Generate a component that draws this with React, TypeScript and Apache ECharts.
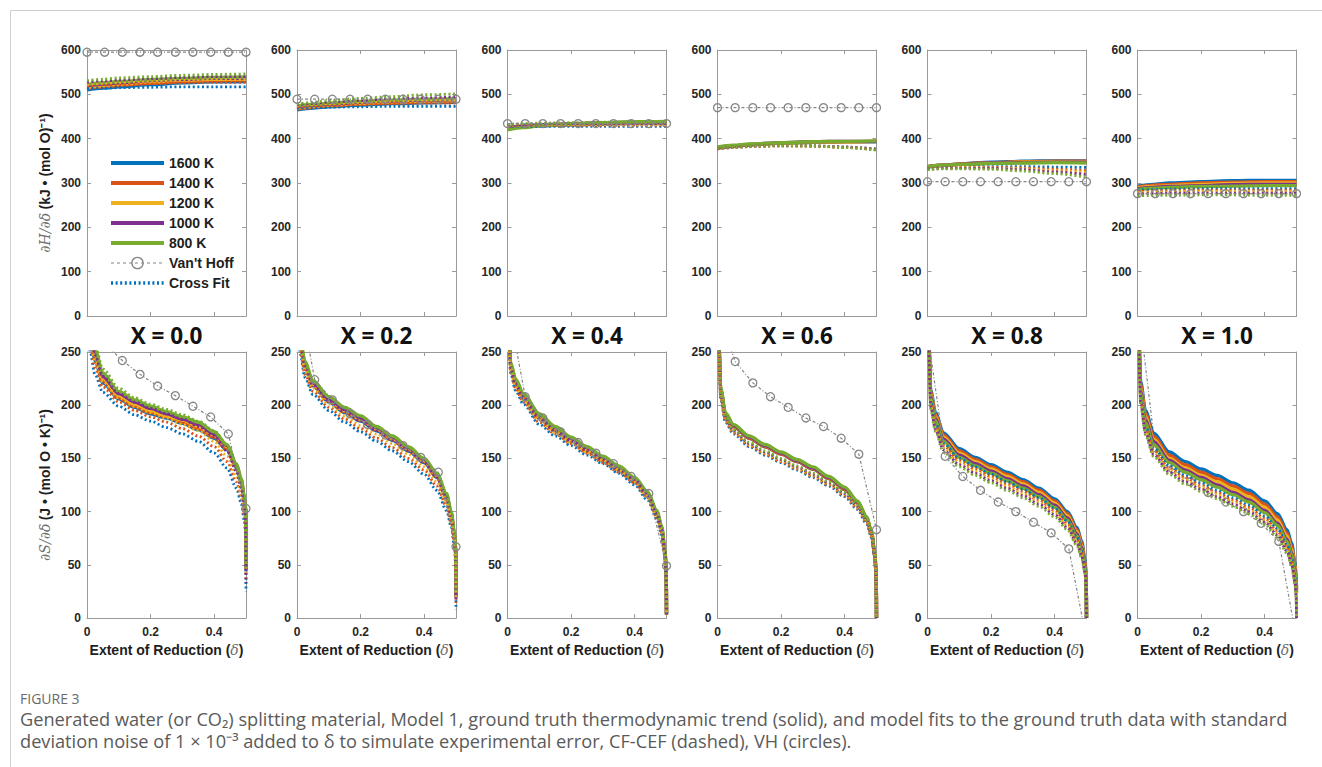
import React, { useEffect, useRef } from "react";
import * as echarts from "echarts";

// ---------- categories ----------
const TEMPS = ["1600 K", "1400 K", "1200 K", "1000 K", "800 K"];
const TEMP_COLORS = ["#0072BD", "#D95319", "#EDB120", "#7E2F8E", "#77AC30"];
const COMPOSITIONS = ["X = 0.0", "X = 0.2", "X = 0.4", "X = 0.6", "X = 0.8", "X = 1.0"];
const VH_NAME = "Van't Hoff";
const FIT_NAME = "Cross Fit";

// ---------- delta sampling ----------
const DELTA_H = [0, 0.05, 0.1, 0.2, 0.3, 0.4, 0.5];
const DELTA_S = [0.001, 0.01, 0.025, 0.05, 0.1, 0.15, 0.2, 0.25, 0.3, 0.35, 0.4, 0.44, 0.47, 0.485, 0.495, 0.499, 0.5];
const DELTA_VH = [0, 0.0556, 0.1111, 0.1667, 0.2222, 0.2778, 0.3333, 0.3889, 0.4444, 0.5];

// ---------- axis ticks ----------
const X_TICKS = [0, 0.5, 0.2];
const H_TICKS = [0, 600, 100];
const S_TICKS = [0, 250, 50];

// ---------- dH/dδ (kJ/mol O): rows are 1600, 1400, 1200, 1000, 800 K ----------
const H_TRUE_X00 = [
  [510, 514, 517, 522, 526, 528, 529],
  [513, 517, 520, 525, 529, 531, 532],
  [516, 520, 523, 528, 532, 534, 535],
  [519, 523, 526, 531, 534, 536, 537],
  [522, 526, 529, 533, 536, 538, 539],
];
const H_FIT_X00 = [
  [513, 514, 515, 516, 517, 517, 517],
  [519, 521, 522, 524, 526, 527, 527],
  [523, 525, 527, 530, 532, 533, 533],
  [527, 530, 532, 535, 538, 540, 540],
  [531, 534, 537, 540, 543, 545, 546],
];
const H_VH_X00 = [595, 595, 595, 595, 595, 595, 595, 595, 595, 595];

const H_TRUE_X02 = [
  [465, 469, 472, 476, 479, 481, 482],
  [467, 471, 474, 478, 481, 483, 484],
  [469, 473, 476, 480, 483, 485, 486],
  [471, 475, 478, 482, 485, 487, 488],
  [474, 477, 480, 484, 487, 489, 490],
];
const H_FIT_X02 = [
  [469, 470, 471, 472, 473, 473, 473],
  [472, 474, 475, 477, 479, 480, 480],
  [474, 477, 479, 482, 485, 487, 488],
  [476, 479, 482, 486, 490, 492, 494],
  [478, 482, 486, 491, 495, 499, 501],
];
const H_VH_X02 = [489, 489, 489, 489, 489, 489, 489, 489, 489, 489];

const H_TRUE_X04 = [
  [424, 427, 429, 431, 433, 434, 434],
  [425, 428, 430, 432, 434, 435, 435],
  [425, 428, 430, 433, 435, 436, 436],
  [424, 428, 431, 434, 436, 437, 437],
  [420, 425, 429, 433, 436, 438, 439],
];
const H_FIT_X04 = [
  [428, 428, 428, 428, 428, 428, 428],
  [429, 429, 430, 430, 430, 430, 430],
  [430, 431, 431, 432, 432, 432, 432],
  [431, 432, 433, 434, 434, 434, 434],
  [432, 434, 435, 436, 437, 437, 437],
];
const H_VH_X04 = [434, 434, 434, 434, 434, 434, 434, 434, 434, 434];

const H_TRUE_X06 = [
  [379, 383, 386, 390, 392, 393, 393],
  [379, 383, 386, 390, 392, 393, 394],
  [380, 384, 387, 390, 392, 393, 394],
  [380, 384, 387, 391, 393, 394, 394],
  [381, 385, 388, 391, 393, 394, 395],
];
const H_FIT_X06 = [
  [377, 380, 382, 384, 383, 381, 377],
  [377, 380, 382, 384, 383, 381, 376],
  [378, 380, 382, 384, 383, 380, 375],
  [378, 381, 383, 385, 384, 381, 375],
  [379, 381, 383, 385, 384, 380, 374],
];
const H_VH_X06 = [470, 470, 470, 470, 470, 470, 470, 470, 470, 470];

const H_TRUE_X08 = [
  [336, 340, 343, 347, 349, 350, 350],
  [337, 340, 343, 346, 348, 349, 349],
  [337, 340, 342, 345, 347, 348, 348],
  [337, 340, 342, 345, 346, 347, 347],
  [337, 340, 342, 344, 345, 346, 345],
];
const H_FIT_X08 = [
  [332, 334, 335, 337, 337, 336, 335],
  [332, 334, 335, 335, 334, 331, 328],
  [331, 333, 334, 334, 332, 328, 324],
  [331, 333, 333, 333, 330, 325, 319],
  [330, 332, 332, 331, 327, 321, 313],
];
const H_VH_X08 = [303, 303, 303, 303, 303, 303, 303, 303, 303, 303];

const H_TRUE_X10 = [
  [293, 297, 300, 303, 305, 306, 306],
  [291, 295, 297, 300, 302, 303, 303],
  [289, 292, 294, 297, 299, 300, 300],
  [287, 290, 292, 294, 296, 297, 297],
  [285, 288, 290, 292, 293, 294, 294],
];
const H_FIT_X10 = [
  [284, 285, 286, 287, 287, 287, 287],
  [281, 282, 283, 284, 284, 284, 284],
  [278, 279, 280, 281, 281, 281, 281],
  [275, 276, 277, 277, 277, 277, 277],
  [271, 272, 272, 273, 273, 272, 272],
];
const H_VH_X10 = [276, 276, 276, 276, 276, 276, 276, 276, 276, 276];

// ---------- dS/dδ (J/(mol O K)): rows are 1600, 1400, 1200, 1000, 800 K ----------
const S_TRUE_X00 = [
  [318, 266, 242, 221, 206, 198, 192, 188, 183, 177, 169, 158, 141, 127, 111, 101, 44],
  [321, 269, 244, 223, 207, 199, 193, 189, 184, 178, 170, 159, 142, 128, 112, 102, 46],
  [324, 272, 247, 225, 209, 201, 195, 190, 186, 180, 172, 161, 143, 129, 112, 102, 47],
  [328, 276, 250, 227, 211, 203, 197, 192, 187, 182, 173, 162, 144, 130, 113, 103, 48],
  [332, 280, 253, 230, 213, 205, 199, 194, 189, 184, 175, 163, 145, 131, 114, 103, 50],
];
const S_FIT_X00 = [
  [300, 250, 229, 212, 199, 191, 185, 179, 173, 166, 155, 141, 122, 108, 91, 78, 25],
  [309, 257, 235, 217, 203, 195, 189, 184, 178, 171, 161, 147, 128, 113, 96, 83, 42],
  [317, 264, 241, 222, 207, 199, 193, 188, 182, 176, 166, 152, 133, 117, 100, 87, 37],
  [325, 272, 247, 227, 211, 203, 197, 192, 187, 180, 171, 157, 138, 122, 104, 91, 33],
  [336, 282, 256, 234, 216, 207, 201, 196, 191, 185, 176, 163, 144, 127, 108, 94, 45],
];
const S_VH_X00 = [285, 258, 242, 229, 218, 209, 199, 189, 173, 103];

const S_TRUE_X02 = [
  [318, 257, 235, 218, 203, 193, 185, 176, 167, 157, 146, 132, 113, 96, 77, 62, 20],
  [320, 258, 236, 219, 204, 194, 186, 177, 168, 158, 147, 133, 114, 97, 78, 63, 20],
  [322, 259, 237, 220, 205, 195, 187, 178, 169, 159, 148, 134, 115, 98, 79, 64, 21],
  [324, 261, 239, 221, 206, 196, 188, 179, 170, 160, 149, 135, 116, 99, 79, 65, 21],
  [327, 263, 241, 223, 208, 198, 190, 180, 171, 161, 150, 136, 117, 100, 80, 66, 22],
];
const S_FIT_X02 = [
  [300, 248, 226, 210, 195, 184, 175, 166, 157, 147, 135, 120, 101, 86, 67, 50, 8],
  [307, 251, 229, 213, 198, 187, 178, 169, 160, 150, 139, 124, 105, 89, 70, 54, 14],
  [313, 255, 233, 216, 201, 190, 181, 173, 164, 154, 142, 128, 109, 92, 74, 57, 20],
  [319, 259, 237, 219, 204, 194, 185, 176, 167, 157, 146, 132, 113, 96, 77, 60, 16],
  [327, 263, 241, 223, 208, 198, 190, 180, 171, 161, 150, 136, 117, 100, 80, 64, 24],
];
const S_VH_X02 = [315, 224, 205, 192, 182, 172, 162, 151, 137, 67];

const S_TRUE_X04 = [
  [296, 236, 221, 207, 188, 176, 166, 157, 148, 139, 128, 115, 97, 82, 61, 44, 3],
  [297, 237, 222, 208, 189, 177, 167, 158, 149, 140, 129, 116, 98, 83, 62, 45, 3],
  [298, 238, 223, 209, 190, 178, 168, 159, 150, 141, 130, 117, 99, 84, 63, 46, 4],
  [299, 239, 224, 210, 191, 179, 169, 160, 151, 142, 131, 118, 100, 85, 63, 46, 4],
  [300, 240, 225, 211, 192, 180, 170, 161, 152, 143, 132, 119, 101, 86, 64, 47, 5],
];
const S_FIT_X04 = [
  [288, 230, 214, 201, 182, 171, 162, 153, 145, 136, 125, 111, 93, 78, 58, 40, 3],
  [291, 232, 216, 203, 184, 173, 164, 155, 146, 137, 127, 113, 95, 80, 59, 42, 4],
  [294, 234, 218, 205, 186, 174, 165, 156, 148, 139, 128, 114, 96, 81, 60, 43, 5],
  [297, 236, 220, 207, 188, 176, 167, 158, 149, 140, 130, 116, 98, 83, 62, 45, 6],
  [300, 239, 223, 210, 190, 178, 169, 160, 151, 142, 131, 118, 100, 85, 63, 46, 8],
];
const S_VH_X04 = [298, 208, 188, 175, 165, 155, 145, 133, 117, 49];

const S_TRUE_X06 = [
  [318, 214, 191, 180, 169, 161, 154, 147, 140, 131, 121, 108, 93, 78, 58, 40, 0],
  [318, 214, 191, 180, 169, 161, 154, 147, 140, 131, 121, 108, 93, 78, 58, 40, 0],
  [319, 215, 192, 181, 170, 162, 155, 148, 141, 132, 122, 109, 94, 79, 59, 41, 0],
  [319, 215, 192, 181, 170, 162, 155, 148, 141, 132, 122, 109, 94, 79, 59, 41, 0],
  [320, 216, 193, 182, 171, 163, 156, 149, 142, 133, 123, 110, 95, 80, 60, 42, 0],
];
const S_FIT_X06 = [
  [308, 206, 184, 173, 161, 153, 146, 139, 132, 124, 114, 102, 88, 75, 57, 40, 0],
  [309, 207, 185, 174, 162, 154, 147, 140, 133, 125, 115, 103, 89, 76, 58, 41, 0],
  [310, 208, 186, 175, 163, 155, 148, 141, 134, 126, 116, 104, 90, 77, 59, 42, 0],
  [311, 209, 187, 176, 164, 156, 149, 142, 135, 127, 117, 105, 91, 78, 60, 43, 0],
  [312, 210, 188, 177, 165, 157, 150, 143, 136, 128, 118, 106, 92, 79, 61, 44, 0],
];
const S_VH_X06 = [288, 241, 221, 208, 198, 188, 180, 169, 154, 83];

const S_TRUE_X08 = [
  [330, 214, 193, 174, 159, 151, 144, 137, 130, 122, 112, 100, 85, 72, 55, 40, 0],
  [328, 212, 191, 172, 157, 149, 142, 135, 128, 120, 110, 98, 83, 70, 53, 38, 0],
  [326, 210, 189, 170, 155, 147, 140, 133, 126, 118, 108, 96, 81, 68, 51, 37, 0],
  [324, 208, 187, 168, 153, 145, 138, 131, 124, 116, 106, 94, 79, 66, 50, 36, 0],
  [322, 206, 185, 166, 151, 143, 136, 129, 122, 114, 104, 92, 77, 64, 48, 35, 0],
];
const S_FIT_X08 = [
  [318, 204, 183, 164, 150, 142, 135, 128, 121, 113, 103, 91, 76, 63, 47, 34, 0],
  [316, 202, 181, 162, 148, 140, 133, 126, 119, 111, 101, 89, 74, 61, 46, 33, 0],
  [314, 200, 179, 160, 146, 138, 131, 124, 117, 109, 99, 87, 72, 60, 45, 32, 0],
  [312, 198, 177, 158, 144, 136, 129, 122, 115, 107, 97, 85, 70, 58, 43, 31, 0],
  [310, 196, 175, 156, 142, 134, 127, 120, 113, 105, 95, 83, 68, 56, 42, 30, 0],
];
const S_VH_X08 = [268, 152, 133, 120, 109, 100, 90, 80, 65, -20];

const S_TRUE_X10 = [
  [330, 222, 195, 174, 156, 147, 140, 134, 127, 120, 110, 98, 83, 70, 52, 38, 28],
  [327, 219, 192, 171, 153, 144, 137, 131, 124, 117, 107, 95, 80, 67, 50, 36, 27],
  [324, 216, 189, 168, 150, 141, 134, 128, 121, 114, 104, 92, 77, 64, 48, 34, 26],
  [321, 213, 186, 166, 148, 139, 132, 125, 118, 111, 101, 89, 74, 61, 46, 33, 25],
  [318, 210, 183, 163, 146, 137, 130, 123, 116, 109, 99, 87, 72, 59, 44, 31, 24],
];
const S_FIT_X10 = [
  [315, 207, 180, 160, 143, 134, 127, 120, 113, 106, 96, 84, 69, 56, 40, 25, 0],
  [313, 205, 178, 158, 141, 132, 125, 118, 111, 104, 94, 82, 67, 54, 38, 23, 0],
  [311, 203, 176, 156, 139, 130, 123, 116, 109, 102, 92, 80, 65, 52, 36, 21, 0],
  [309, 201, 174, 154, 137, 128, 121, 114, 107, 100, 90, 78, 63, 50, 34, 19, 0],
  [307, 199, 172, 152, 135, 126, 119, 112, 105, 98, 88, 76, 61, 48, 32, 17, 0],
];
const S_VH_X10 = [300, 160, 140, 128, 118, 109, 100, 89, 72, -20];

const H_TRUE = [H_TRUE_X00, H_TRUE_X02, H_TRUE_X04, H_TRUE_X06, H_TRUE_X08, H_TRUE_X10];
const H_FIT = [H_FIT_X00, H_FIT_X02, H_FIT_X04, H_FIT_X06, H_FIT_X08, H_FIT_X10];
const H_VH = [H_VH_X00, H_VH_X02, H_VH_X04, H_VH_X06, H_VH_X08, H_VH_X10];
const S_TRUE = [S_TRUE_X00, S_TRUE_X02, S_TRUE_X04, S_TRUE_X06, S_TRUE_X08, S_TRUE_X10];
const S_FIT = [S_FIT_X00, S_FIT_X02, S_FIT_X04, S_FIT_X06, S_FIT_X08, S_FIT_X10];
const S_VH = [S_VH_X00, S_VH_X02, S_VH_X04, S_VH_X06, S_VH_X08, S_VH_X10];

const CAPTION_LINES = [
  "Generated water (or CO\u2082) splitting material, Model 1, ground truth thermodynamic trend (solid), and model fits to the ground truth data with standard",
  "deviation noise of 1 \u00d7 10\u207b\u00b3 added to \u03b4 to simulate experimental error, CF-CEF (dashed), VH (circles).",
];

// ---------- layout / style ----------
const PANEL_LEFT = [87, 297, 507.5, 717.5, 927.5, 1137.5];
const PANEL_W = 159;
const ROW_TOP = [50, 352];
const PANEL_H = 266;
const AXIS_GRAY = "#9a9a9a";
const LABEL_COLOR = "#262626";
const VH_GRAY = "#858585";
const SANS = "'Liberation Sans', Arial, sans-serif";
const SOLID_W = 3.4;
const FIT_W = 2.8;
const FIT_DASH = [2, 2.6];
const VH_DASH = [3, 2, 1, 2];

const zip = (xs: number[], ys: number[]) => xs.map((x, i) => [x, ys[i]]);

function buildOption() {
  const grid: any[] = [];
  const xAxis: any[] = [];
  const yAxis: any[] = [];
  const series: any[] = [];

  const tick = { show: true, inside: true, length: 4, lineStyle: { color: AXIS_GRAY, width: 1 } };
  const line = { show: true, onZero: false, lineStyle: { color: AXIS_GRAY, width: 1 } };
  const labelStyle = { fontFamily: SANS, fontWeight: "bold", fontSize: 12, color: LABEL_COLOR };
  const rich = {
    m: { fontFamily: "'DejaVu Serif', serif", fontStyle: "italic", fontSize: 14, color: "#6e6e6e" },
    b: { fontFamily: SANS, fontWeight: "bold", fontSize: 14, color: "#1e1e1e" },
  };

  for (let row = 0; row < 2; row++) {
    for (let col = 0; col < 6; col++) {
      const g = row * 6 + col;
      const isS = row === 1;
      const yt = isS ? S_TICKS : H_TICKS;
      grid.push({ left: PANEL_LEFT[col], top: ROW_TOP[row], width: PANEL_W, height: PANEL_H });

      xAxis.push({
        type: "value", gridIndex: g, position: "bottom",
        min: X_TICKS[0], max: X_TICKS[1], interval: X_TICKS[2],
        axisLine: line, axisTick: tick, splitLine: { show: false },
        axisLabel: {
          show: isS, showMaxLabel: false, margin: 8, ...labelStyle,
          formatter: (v: number) => (v === 0 ? "0" : v.toFixed(1)),
        },
        name: isS ? "{b|Extent of Reduction (}{m|\u03b4}{b|)}" : "",
        nameLocation: "middle", nameGap: 25,
        nameTextStyle: { rich },
      });
      xAxis.push({
        type: "value", gridIndex: g, position: "top",
        min: X_TICKS[0], max: X_TICKS[1], interval: X_TICKS[2],
        axisLine: line, axisTick: tick, splitLine: { show: false },
        axisLabel: { show: false },
      });
      yAxis.push({
        type: "value", gridIndex: g, position: "left",
        min: yt[0], max: yt[1], interval: yt[2],
        axisLine: line, axisTick: tick, splitLine: { show: false },
        axisLabel: { margin: 6, ...labelStyle },
        name: col === 0
          ? (isS ? "{m|\u2202S/\u2202\u03b4} {b|(J \u2022 (mol O \u2022 K)\u207b\u00b9)}"
                 : "{m|\u2202H/\u2202\u03b4} {b|(kJ \u2022 (mol O)\u207b\u00b9)}")
          : "",
        nameLocation: "middle", nameGap: 35,
        nameTextStyle: { rich },
      });
      yAxis.push({
        type: "value", gridIndex: g, position: "right",
        min: yt[0], max: yt[1], interval: yt[2],
        axisLine: line, axisTick: tick, splitLine: { show: false },
        axisLabel: { show: false },
      });

      const xs = isS ? DELTA_S : DELTA_H;
      const truth = isS ? S_TRUE[col] : H_TRUE[col];
      const fits = isS ? S_FIT[col] : H_FIT[col];
      const vh = isS ? S_VH[col] : H_VH[col];
      const axes = { xAxisIndex: 2 * g, yAxisIndex: 2 * g };
      // in the X = 1.0 entropy panel the Van't Hoff trace sits inside the fit band and is drawn beneath it
      const vhBelow = isS && col === 5;

      TEMPS.forEach((name, k) => {
        series.push({
          type: "line", name, ...axes, data: zip(xs, truth[k]), z: 2,
          symbol: "none", smooth: 0.3, smoothMonotone: "x", clip: true,
          lineStyle: { color: TEMP_COLORS[k], width: SOLID_W },
          itemStyle: { color: TEMP_COLORS[k] },
        });
      });
      TEMPS.forEach((t, k) => {
        series.push({
          type: "line", name: k === 0 ? FIT_NAME : FIT_NAME + " " + t, ...axes, z: 2,
          data: zip(xs, fits[k]),
          symbol: "none", smooth: 0.3, smoothMonotone: "x", clip: true,
          lineStyle: { color: TEMP_COLORS[k], width: FIT_W, type: FIT_DASH },
          itemStyle: { color: TEMP_COLORS[k] },
        });
      });
      series.push({
        type: "line", name: VH_NAME, ...axes, data: zip(DELTA_VH, vh), z: vhBelow ? 1 : 3,
        symbol: "circle", symbolSize: 8, showAllSymbol: true, clip: true,
        lineStyle: { color: VH_GRAY, width: 1.2, type: VH_DASH },
        itemStyle: { color: "rgba(255,255,255,0)", borderColor: VH_GRAY, borderWidth: 1.3 },
      });
    }
  }

  const graphic: any[] = [
    { type: "line", shape: { x1: 10.5, y1: 10.5, x2: 1322, y2: 10.5 }, style: { stroke: "#cfcfcf", lineWidth: 1 } },
    { type: "line", shape: { x1: 10.5, y1: 10.5, x2: 10.5, y2: 767 }, style: { stroke: "#cfcfcf", lineWidth: 1 } },
  ];
  COMPOSITIONS.forEach((t, col) => {
    graphic.push({
      type: "text", x: PANEL_LEFT[col] + PANEL_W / 2, y: 335,
      style: { text: t, align: "center", verticalAlign: "middle", fontFamily: "'Open Sans', sans-serif", fontWeight: "bold", fontSize: 22.5, fill: "#111" },
    });
  });
  graphic.push({
    type: "text", x: 20, y: 698,
    style: { text: "FIGURE 3", align: "left", verticalAlign: "middle", fontFamily: "'Open Sans', sans-serif", fontSize: 14, fill: "#6a6a6a" },
  });
  CAPTION_LINES.forEach((t, i) => {
    graphic.push({
      type: "text", x: 20, y: 719 + i * 22,
      style: { text: t, align: "left", verticalAlign: "middle", fontFamily: "'Open Sans', sans-serif", fontSize: 18.2, fill: "#5a5a5a" },
    });
  });

  // legend: thick line samples for the temperatures and the fit, open circle for Van't Hoff
  const hidden = { opacity: 0 };
  const legendData = [
    ...TEMPS.map((name, k) => ({
      name, itemStyle: hidden,
      lineStyle: { color: TEMP_COLORS[k], width: 4, type: "solid" },
    })),
    {
      name: VH_NAME,
      itemStyle: { color: "rgba(255,255,255,0)", borderColor: VH_GRAY, borderWidth: 1.3 },
      lineStyle: { color: VH_GRAY, width: 1.2, type: [3, 3] },
    },
    {
      name: FIT_NAME, itemStyle: hidden,
      lineStyle: { color: TEMP_COLORS[0], width: 3.5, type: FIT_DASH },
    },
  ];

  return {
    animation: false,
    backgroundColor: "#ffffff",
    legend: {
      data: legendData, orient: "vertical", left: 104, top: 151,
      itemWidth: 53, itemHeight: 14, itemGap: 6,
      selectedMode: false,
      textStyle: { fontFamily: SANS, fontWeight: "bold", fontSize: 14, color: "#1e1e1e" },
    },
    grid, xAxis, yAxis, series, graphic,
  };
}

export default function App() {
  const ref = useRef<HTMLDivElement>(null);
  useEffect(() => {
    if (!ref.current) return;
    const chart = echarts.init(ref.current, undefined, { renderer: "svg" });
    chart.setOption(buildOption());
    return () => chart.dispose();
  }, []);
  return (
    <div
      ref={ref}
      style={{ position: "fixed", left: 0, top: 0, width: 1322, height: 767, background: "#fff" }}
    />
  );
}
